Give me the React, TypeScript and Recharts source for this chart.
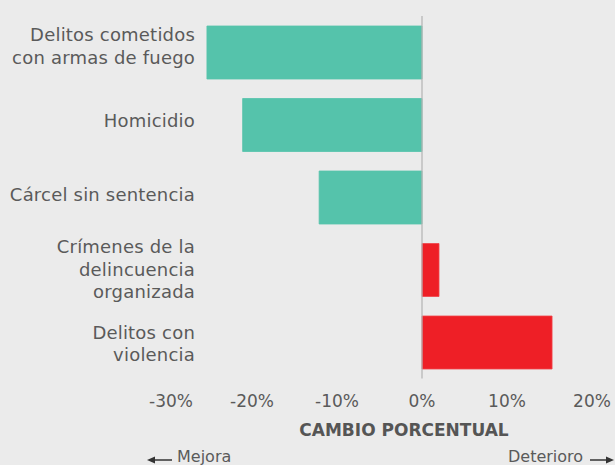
import React from 'react';
import { BarChart, Bar, XAxis, YAxis, Cell, ReferenceLine } from 'recharts';

const categories = [
  'Delitos cometidos\ncon armas de fuego',
  'Homicidio',
  'Cárcel sin sentencia',
  'Crímenes de la\ndelincuencia\norganizada',
  'Delitos con\nviolencia',
];
const changes = [-25.3, -21.1, -12.1, 2.0, 15.3];
const xTicks = [-30, -20, -10, 0, 10, 20];
const axisTitle = 'CAMBIO PORCENTUAL';
const leftNote = 'Mejora';
const rightNote = 'Deterioro';

const BG = '#ebebeb';
const TEXT = '#5a5a5a';
const GOOD = '#55c3ab';
const BAD = '#ee1f26';
const FONT = '"DejaVu Sans", sans-serif';

const data = categories.map((c, i) => ({ name: c, value: changes[i] }));

const CatTick = (props: any) => {
  const { y, payload, index } = props;
  const lines = String(payload.value).split('\n');
  const lh = 22.5;
  const center = y + 4 + (index - 2) * 1.8;
  const first = center - ((lines.length - 1) * lh) / 2;
  return (
    <text x={195} y={first} textAnchor="end" fill={TEXT} fontSize={18} fontFamily={FONT} letterSpacing={0.2}>
      {lines.map((l: string, i: number) => (
        <tspan key={i} x={195} y={first + i * lh}>
          {l}
        </tspan>
      ))}
    </text>
  );
};

const ValTick = (props: any) => {
  const { x, payload, index } = props;
  const nudge = index === 0 ? 4 : 0;
  return (
    <text x={x + nudge} y={407} textAnchor="middle" fill={TEXT} fontSize={17} fontFamily={FONT}>
      {`${payload.value}%`}
    </text>
  );
};

export default function App() {
  return (
    <div style={{ position: 'absolute', left: 0, top: 0, width: 615, height: 465, background: BG }}>
      <BarChart
        width={615}
        height={465}
        data={data}
        layout="vertical"
        margin={{ top: 16, right: 23, left: 0, bottom: 56.5 }}
        barSize={53}
      >
        <XAxis
          type="number"
          domain={[-30, 20]}
          ticks={xTicks}
          axisLine={false}
          tickLine={false}
          height={30}
          tick={<ValTick />}
          interval={0}
        />
        <YAxis
          type="category"
          dataKey="name"
          width={167}
          axisLine={false}
          tickLine={false}
          tick={<CatTick />}
          interval={0}
        />
        <Bar dataKey="value" isAnimationActive={false}>
          {data.map((d, i) => (
            <Cell key={i} fill={d.value < 0 ? GOOD : BAD} stroke={d.value < 0 ? GOOD : '#f0444a'} strokeWidth={0.8} />
          ))}
        </Bar>
        <ReferenceLine x={0} stroke="#b3b3b3" strokeWidth={1.2} ifOverflow="extendDomain" />
      </BarChart>
      <svg width={615} height={465} style={{ position: 'absolute', left: 0, top: 0, pointerEvents: 'none' }}>
        <text x={404} y={436} textAnchor="middle" fill="#555555" fontSize={17} fontWeight="bold" fontFamily={FONT}>
          {axisTitle}
        </text>
        <line x1={151} y1={460} x2={172} y2={460} stroke="#333" strokeWidth={1.5} />
        <polygon points="147,460 155,456.5 155,463.5" fill="#333" />
        <text x={177} y={462} fill={TEXT} fontSize={16} fontFamily={FONT}>
          {leftNote}
        </text>
        <text x={508} y={462} fill={TEXT} fontSize={16} fontFamily={FONT}>
          {rightNote}
        </text>
        <line x1={590} y1={460} x2={609} y2={460} stroke="#333" strokeWidth={1.5} />
        <polygon points="614,460 606,456.5 606,463.5" fill="#333" />
      </svg>
    </div>
  );
}
